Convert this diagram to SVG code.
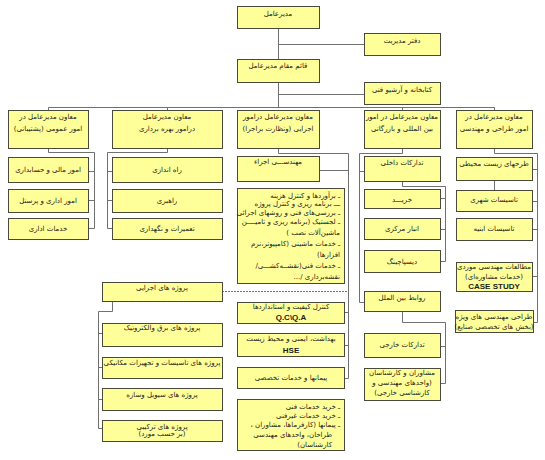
<svg xmlns="http://www.w3.org/2000/svg" width="545" height="460" viewBox="0 0 545 460">
<style>
.b{fill:#FFFF99;stroke:#4a4a3a;stroke-width:1}
.c path{fill:none;stroke:#707070;stroke-width:1}
.c .d{stroke-dasharray:2 1}
text{font-family:"DejaVu Sans",sans-serif;font-size:7px;fill:#1a1a1a;text-anchor:middle;direction:rtl;unicode-bidi:embed}
text.r{text-anchor:start}
text.e{font-family:"Liberation Sans",Arial,sans-serif;font-weight:bold;font-size:8px;direction:ltr}
</style>
<rect width="545" height="460" fill="#fff"/>
<g class="c">
<path d="M278.5,28 V107.5 M278.5,44.5 H364 M278.5,94.5 H364"/>
<path d="M48.5,107.5 H494.5 M48.5,107.5 V110 M167.5,107.5 V110 M402.5,107.5 V110 M494.5,107.5 V110"/>
<path d="M48.5,148 V152.5 H94.5 V228.5 M88,171.5 H94.5 M88,200.5 H94.5 M88,228.5 H94.5"/>
<path d="M167.5,148 V152.5 H107.5 V228.5 M107.5,171.5 H112 M107.5,200.5 H112 M107.5,228.5 H112"/>
<path d="M278.5,148 V153.5 H348.5 V378.5 M319,170.5 H348.5 M344,312.5 H348.5 M344,345.5 H348.5 M344,378.5 H348.5"/>
<path class="d" d="M222,291.5 H348.5"/>
<path d="M112.5,301 V311.5 H98.5 V428.5 M98.5,333.5 H102 M98.5,367.5 H102 M98.5,399.5 H102 M98.5,428.5 H102"/>
<path d="M402.5,148 V153.5 H359.5 V302.5 M359.5,171.5 H364 M359.5,302.5 H364"/>
<path d="M402.5,181 V186.5 H445.5 V261.5 M440,198.5 H445.5 M440,229.5 H445.5 M440,261.5 H445.5"/>
<path d="M402.5,311 V322.5 H445.5 V383.5 M440,346.5 H445.5 M440,383.5 H445.5"/>
<path d="M494.5,148 V153.5 H537.5 V322.5 M532,169.5 H537.5 M532,201.5 H537.5 M532,229.5 H537.5 M532,276.5 H537.5 M533,322.5 H537.5 M494.5,180 V190"/>
</g>
<g id="ceo"><rect class="b" x="237.5" y="6.5" width="82" height="22"/><text x="278" y="16">مدیرعامل</text></g>
<g id="office"><rect class="b" x="364.5" y="33.5" width="76" height="22"/><text x="402" y="43">دفتر مدیریت</text></g>
<g id="deputy"><rect class="b" x="237.5" y="59.5" width="82" height="23"/><text x="278" y="68">قائم مقام مدیرعامل</text></g>
<g id="library"><rect class="b" x="364.5" y="82.5" width="76" height="22"/><text x="402" y="92">کتابخانه و آرشیو فنی</text></g>

<g id="vpA"><rect class="b" x="8.5" y="110.5" width="80" height="38"/><text x="48" y="119">معاون مدیرعامل در</text><text x="48" y="131">امور عمومی (پشتیبانی)</text></g>
<g id="vpB"><rect class="b" x="112.5" y="110.5" width="110" height="38"/><text x="167" y="119">معاون مدیرعامل</text><text x="167" y="131">درامور بهره برداری</text></g>
<g id="vpC"><rect class="b" x="237.5" y="110.5" width="82" height="38"/><text x="278" y="119">معاون مدیرعامل درامور</text><text x="278" y="131">اجرایی (ونظارت براجرا)</text></g>
<g id="vpD"><rect class="b" x="364.5" y="110.5" width="76" height="38"/><text x="402" y="119">معاون مدیرعامل در امور</text><text x="402" y="131">بین المللی و بازرگانی</text></g>
<g id="vpE"><rect class="b" x="456.5" y="110.5" width="76" height="38"/><text x="494" y="119">معاون مدیرعامل در</text><text x="494" y="131">امور طراحی و مهندسی</text></g>

<g id="a1"><rect class="b" x="8.5" y="157.5" width="80" height="25"/><text x="48" y="172">امور مالی و حسابداری</text></g>
<g id="a2"><rect class="b" x="8.5" y="189.5" width="80" height="23"/><text x="48" y="203">امور اداری و پرسنل</text></g>
<g id="a3"><rect class="b" x="8.5" y="218.5" width="80" height="21"/><text x="48" y="231">خدمات اداری</text></g>

<g id="b1"><rect class="b" x="112.5" y="157.5" width="110" height="25"/><text x="167" y="172">راه اندازی</text></g>
<g id="b2"><rect class="b" x="112.5" y="189.5" width="110" height="23"/><text x="167" y="203">راهبری</text></g>
<g id="b3"><rect class="b" x="112.5" y="218.5" width="110" height="21"/><text x="167" y="231">تعمیرات و نگهداری</text></g>

<g id="c1"><rect class="b" x="237.5" y="156.5" width="82" height="25"/><text x="278" y="164">مهندســـی اجراء</text></g>
<g id="c2"><rect class="b" x="237.5" y="188.5" width="107" height="95"/>
<text class="r" x="340" y="198">ـ برآوردها و کنترل هزینه</text>
<text class="r" x="340" y="206">ـــ برنامه ریزی و کنترل پروژه</text>
<text class="r" x="340" y="215">ـ بررسی‌های فنی و روشهای اجرائی</text>
<text class="r" x="340" y="224">ـ لجستیک (برنامه ریزی و تامیــــن</text>
<text class="r" x="340" y="235">ماشین‌آلات نصب )</text>
<text class="r" x="340" y="246">ـ خدمات ماشینی (کامپیوتر،نرم</text>
<text class="r" x="340" y="257">افزارها)</text>
<text class="r" x="340" y="268">ـ خدمات فنی(نقشــه‌کشـــی/</text>
<text class="r" x="340" y="279">نقشه‌برداری /...</text>
</g>
<g id="c3"><rect class="b" x="237.5" y="302.5" width="107" height="21"/><text x="291" y="309">کنترل کیفیت و استانداردها</text><text class="e" x="291" y="320">Q.C\Q.A</text></g>
<g id="c4"><rect class="b" x="237.5" y="333.5" width="107" height="23"/><text x="291" y="341">بهداشت، ایمنی و محیط زیست</text><text class="e" x="291" y="353">HSE</text></g>
<g id="c5"><rect class="b" x="237.5" y="367.5" width="107" height="21"/><text x="291" y="380">پیمانها و خدمات تخصصی</text></g>
<g id="c6"><rect class="b" x="237.5" y="399.5" width="107" height="51"/>
<text class="r" x="340" y="409">ـ خرید خدمات فنی</text>
<text class="r" x="340" y="418">ـ خرید خدمات غیرفنی</text>
<text class="r" x="340" y="427">ـ پیمانها (کارفرماها، مشاوران ،</text>
<text class="r" x="332" y="437">طراحان، واحدهای مهندسی</text>
<text class="r" x="332" y="447">کارشناسان)</text>
</g>

<g id="p0"><rect class="b" x="102.5" y="282.5" width="120" height="19"/><text x="162" y="290">پروژه های اجرایی</text></g>
<g id="p1"><rect class="b" x="102.5" y="323.5" width="120" height="23"/><text x="162" y="330">پروژه های برق والکترونیک</text></g>
<g id="p2"><rect class="b" x="102.5" y="357.5" width="120" height="21"/><text x="162" y="365">پروژه های تاسیسات و تجهیزات مکانیکی</text></g>
<g id="p3"><rect class="b" x="102.5" y="388.5" width="120" height="22"/><text x="162" y="397">پروژه های سیویل وسازه</text></g>
<g id="p4"><rect class="b" x="102.5" y="420.5" width="120" height="21"/><text x="162" y="429">پروژه های ترکیبی</text><text x="162" y="436">(بر حسب مورد)</text></g>

<g id="d1"><rect class="b" x="364.5" y="156.5" width="76" height="25"/><text x="402" y="165">تدارکات داخلی</text></g>
<g id="d2"><rect class="b" x="364.5" y="189.5" width="76" height="19"/><text x="402" y="202">خریـــد</text></g>
<g id="d3"><rect class="b" x="364.5" y="218.5" width="76" height="21"/><text x="402" y="231">انبار مرکزی</text></g>
<g id="d4"><rect class="b" x="364.5" y="250.5" width="76" height="22"/><text x="402" y="264">دیسپاچینگ</text></g>
<g id="d5"><rect class="b" x="364.5" y="291.5" width="76" height="20"/><text x="402" y="300">روابط بین الملل</text></g>
<g id="d6"><rect class="b" x="364.5" y="333.5" width="76" height="24"/><text x="402" y="347">تدارکات خارجی</text></g>
<g id="d7"><rect class="b" x="364.5" y="368.5" width="76" height="32"/><text x="402" y="375">مشاوران و کارشناسان</text><text x="402" y="385">(واحدهای مهندسی و</text><text x="402" y="395">کارشناسی خارجی)</text></g>

<g id="e1"><rect class="b" x="456.5" y="157.5" width="76" height="23"/><text x="494" y="166">طرحهای زیست محیطی</text></g>
<g id="e2"><rect class="b" x="456.5" y="190.5" width="76" height="21"/><text x="494" y="202">تاسیسات شهری</text></g>
<g id="e3"><rect class="b" x="456.5" y="218.5" width="76" height="22"/><text x="494" y="231">تاسیسات ابنیه</text></g>
<g id="e4"><rect class="b" x="456.5" y="262.5" width="76" height="29"/><text x="494" y="269">مطالعات مهندسی موردی</text><text x="494" y="279">(خدمات مشاوره‌ای)</text><text class="e" x="494" y="289">CASE STUDY</text></g>
<g id="e5"><rect class="b" x="455.5" y="310.5" width="78" height="22"/><text x="494" y="319">طراحی مهندسی های ویژه</text><text x="494" y="329">(بخش های تخصصی صنایع)</text></g>
</svg>
